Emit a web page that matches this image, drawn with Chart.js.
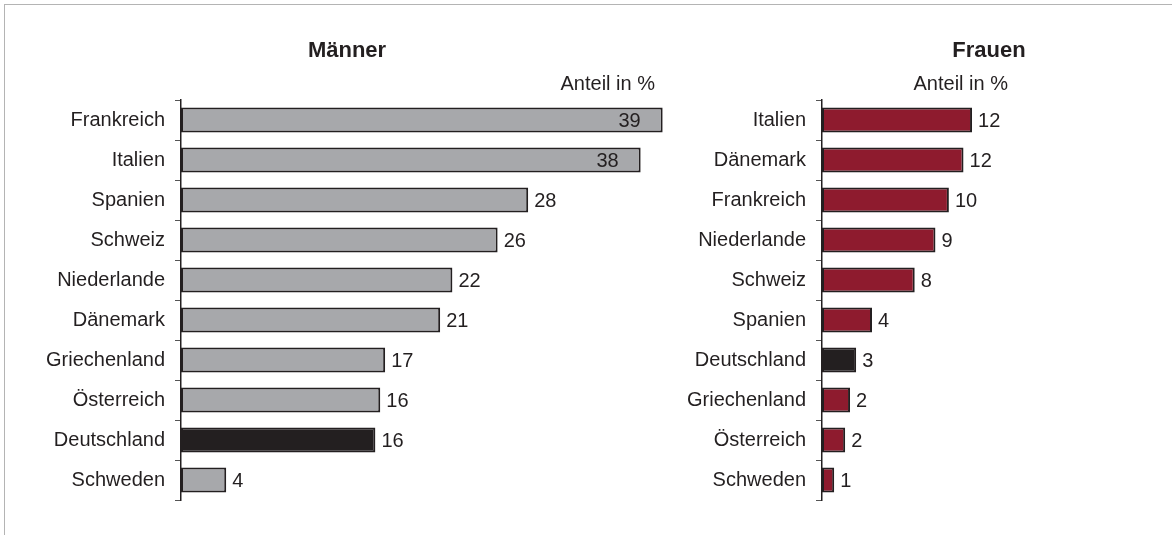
<!DOCTYPE html>
<html lang="de">
<head>
<meta charset="UTF-8">
<title>Männer / Frauen – Anteil in %</title>
<script src="https://cdn.jsdelivr.net/npm/chart.js"></script>
<style>
  body { margin: 0; background: #fff; }
  #frame { position: absolute; left: 4px; top: 4px; width: 1168px; height: 531px;
           border-top: 1px solid #b4b4b4; border-left: 1px solid #b4b4b4; }
  canvas { position: absolute; top: 0; }
  #men { left: 5px; }
  #women { left: 670px; }
</style>
</head>
<body>
<div id="frame"></div>
<canvas id="men" width="665" height="535"></canvas>
<canvas id="women" width="500" height="535"></canvas>

<script>
// Männer
const menCountries = ["Frankreich", "Italien", "Spanien", "Schweiz", "Niederlande",
                      "Dänemark", "Griechenland", "Österreich", "Deutschland", "Schweden"];
const menValues = [39.4, 37.6, 28.4, 25.9, 22.2, 21.2, 16.7, 16.3, 15.9, 3.7];

// Frauen
const womenCountries = ["Italien", "Dänemark", "Frankreich", "Niederlande", "Schweiz",
                        "Spanien", "Deutschland", "Griechenland", "Österreich", "Schweden"];
const womenValues = [12.3, 11.6, 10.4, 9.3, 7.6, 4.1, 2.8, 2.3, 1.9, 1.0];

const FONT = "'Liberation Sans', Arial, sans-serif";
const INK = "#231f20";
const GREY = "#a7a8ab";
const RED = "#8e1b2e";

const headings = {
  id: "headings",
  afterDraw(chart, args, opts) {
    const ctx = chart.ctx;
    ctx.save();
    ctx.fillStyle = INK;
    ctx.textBaseline = "alphabetic";
    ctx.font = "bold 22px " + FONT;
    ctx.textAlign = "center";
    ctx.fillText(opts.title, opts.titleX, 57);
    ctx.font = "20px " + FONT;
    ctx.textAlign = "right";
    ctx.fillText("Anteil in %", opts.unitX, 90);
    ctx.restore();
  }
};

const valueLabels = {
  id: "valueLabels",
  afterDatasetsDraw(chart, args, opts) {
    const ctx = chart.ctx;
    const values = chart.data.datasets[0].data;
    ctx.save();
    ctx.font = "20px " + FONT;
    ctx.fillStyle = INK;
    ctx.textBaseline = "middle";
    chart.getDatasetMeta(0).data.forEach((bar, i) => {
      const txt = String(Math.round(values[i]));
      if (opts.insideFrom && values[i] >= opts.insideFrom) {
        ctx.textAlign = "right";
        ctx.fillText(txt, bar.x - 22, bar.y + 1);
      } else {
        ctx.textAlign = "left";
        ctx.fillText(txt, bar.x + 6, bar.y + 1);
      }
    });
    ctx.restore();
  }
};

function makeChart(id, labels, values, color, xMax, yWidth, padRight, head, insideFrom) {
  return new Chart(document.getElementById(id), {
    type: "bar",
    data: {
      labels: labels,
      datasets: [{
        data: values,
        backgroundColor: labels.map(c => c === "Deutschland" ? INK : color),
        borderColor: INK,
        borderWidth: 2,
        borderSkipped: false,
        categoryPercentage: 1,
        barPercentage: 0.63
      }]
    },
    options: {
      indexAxis: "y",
      responsive: false,
      animation: false,
      devicePixelRatio: 1,
      layout: { padding: { top: 100, bottom: 35, left: 0, right: padRight } },
      scales: {
        x: { display: false, min: 0, max: xMax },
        y: {
          afterFit(scale) { scale.width = yWidth; },
          grid: { offset: true, drawOnChartArea: false, drawTicks: true, tickLength: 6, color: "#555" },
          border: { display: true, color: INK, width: 1.5 },
          ticks: { color: INK, padding: 10, font: { family: FONT, size: 20 } }
        }
      },
      plugins: {
        legend: { display: false },
        tooltip: { enabled: false },
        headings: head,
        valueLabels: { insideFrom: insideFrom }
      }
    },
    plugins: [headings, valueLabels]
  });
}

makeChart("men", menCountries, menValues, GREY, 40, 176, 0,
  { title: "Männer", titleX: 342, unitX: 650 }, 35);
makeChart("women", womenCountries, womenValues, RED, 20, 152, 104,
  { title: "Frauen", titleX: 319, unitX: 338 }, 0);
</script>
</body>
</html>
